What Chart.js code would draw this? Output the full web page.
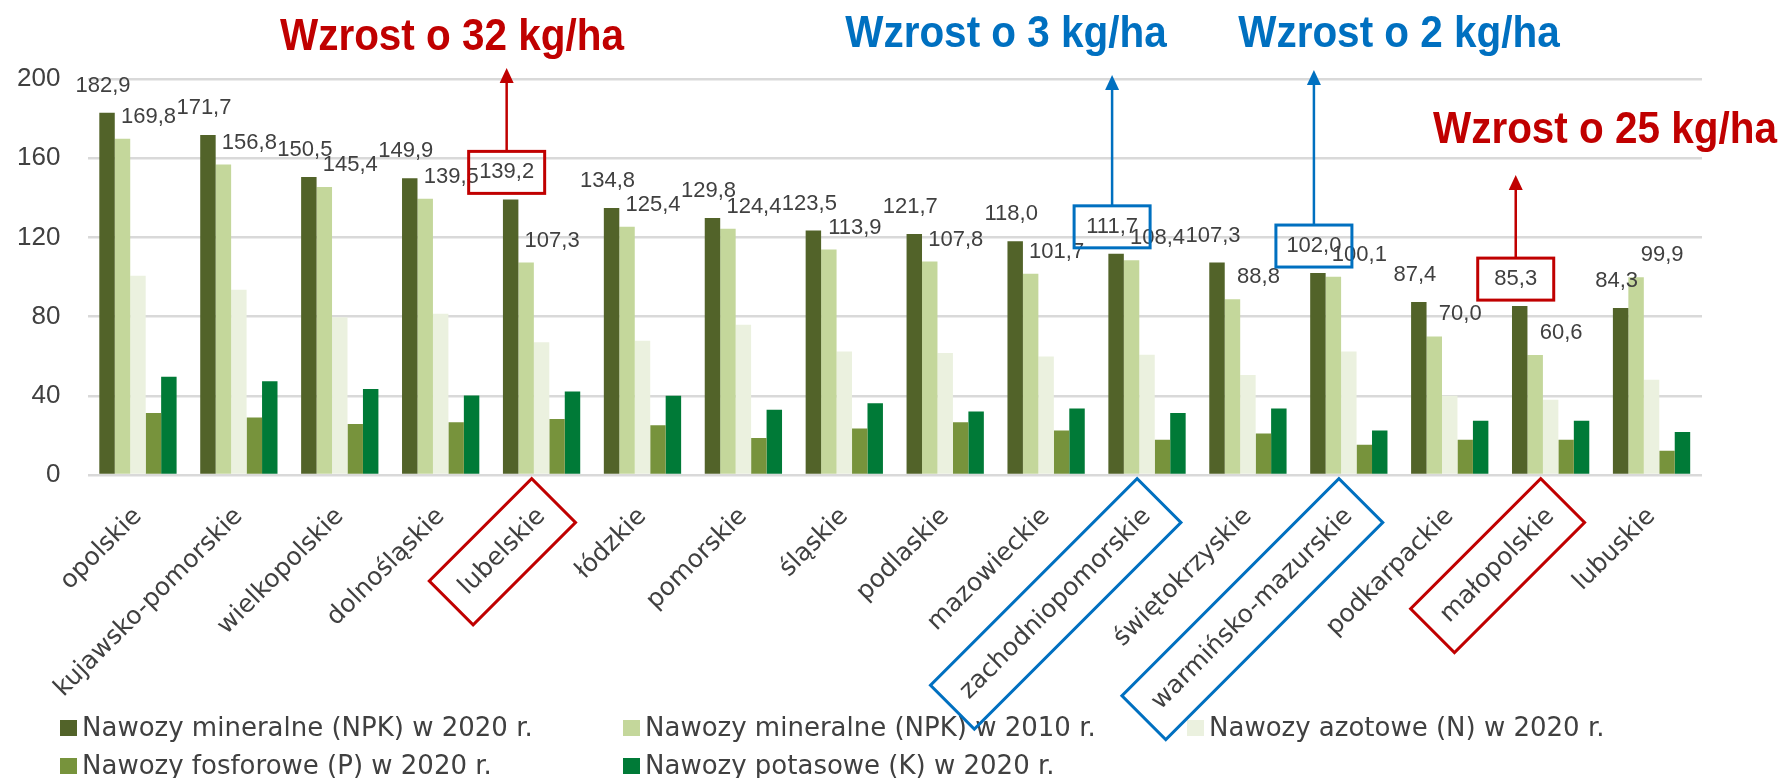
<!DOCTYPE html>
<html>
<head>
<meta charset="utf-8">
<script src="https://cdn.jsdelivr.net/npm/chart.js@4.4.1/dist/chart.umd.min.js"></script>
<style>
  html, body { margin: 0; padding: 0; background: #fff; }
  canvas { display: block; }
</style>
</head>
<body>
<canvas id="chart" width="1785" height="778"></canvas>
<script>
// --- DATA (kg/ha) ---
const regions = ['opolskie', 'kujawsko-pomorskie', 'wielkopolskie', 'dolnośląskie', 'lubelskie',
  'łódzkie', 'pomorskie', 'śląskie', 'podlaskie', 'mazowieckie', 'zachodniopomorskie',
  'świętokrzyskie', 'warmińsko-mazurskie', 'podkarpackie', 'małopolskie', 'lubuskie'];
const npk2020 = [182.9, 171.7, 150.5, 149.9, 139.2, 134.8, 129.8, 123.5, 121.7, 118.0, 111.7, 107.3, 102.0, 87.4, 85.3, 84.3];
const npk2010 = [169.8, 156.8, 145.4, 139.5, 107.3, 125.4, 124.4, 113.9, 107.8, 101.7, 108.4, 88.8, 100.1, 70.0, 60.6, 99.9];
const n2020 = [100.6, 93.5, 79.7, 81.4, 67.0, 67.8, 75.9, 62.4, 61.6, 59.9, 60.7, 50.5, 62.4, 40.0, 38.0, 48.1];
const p2020 = [31.3, 29.1, 25.7, 26.6, 28.3, 25.1, 18.7, 23.5, 26.6, 22.5, 17.8, 21.0, 15.3, 17.8, 17.8, 12.3];
const k2020 = [49.6, 47.3, 43.4, 40.2, 42.2, 40.0, 33.0, 36.2, 32.1, 33.6, 31.3, 33.6, 22.5, 27.4, 27.4, 21.7];
const seriesNames = ['Nawozy mineralne (NPK) w 2020 r.', 'Nawozy mineralne (NPK) w 2010 r.',
  'Nawozy azotowe (N) w 2020 r.', 'Nawozy fosforowe (P) w 2020 r.', 'Nawozy potasowe (K) w 2020 r.'];
const yMin = 0, yMax = 200, yStep = 40;

// callouts: which region, heading text
const calloutIdx = [4, 10, 12, 14];
const calloutText = ['Wzrost o 32 kg/ha', 'Wzrost o 3 kg/ha', 'Wzrost o 2 kg/ha', 'Wzrost o 25 kg/ha'];

// --- STYLE / LAYOUT ---
const colors = ['#526329', '#c4d79b', '#ebf1df', '#77933c', '#007a37'];
const calloutColor = ['#c00000', '#0070c0', '#0070c0', '#c00000'];
// heading centre x, heading baseline y, arrow tip y (canvas px)
const calloutPos = [[452, 50, 68], [1006, 47, 75], [1399, 47, 70], [1605, 143, 175]];
const textColor = '#404040';
const TEXT_FONT = '"DejaVu Sans", sans-serif';
const NUM_FONT = '"Liberation Sans", Arial, sans-serif';

const fmt = v => v.toFixed(1).replace('.', ',');

const overlay = {
  id: 'overlay',
  afterDraw(chart) {
    const ctx = chart.ctx;
    const m0 = chart.getDatasetMeta(0);
    const m1 = chart.getDatasetMeta(1);

    // value labels for the two NPK series
    ctx.save();
    ctx.font = '22px ' + NUM_FONT;
    ctx.fillStyle = textColor;
    ctx.textAlign = 'center';
    ctx.textBaseline = 'middle';
    const lab0 = [];
    regions.forEach((r, i) => {
      const b0 = m0.data[i], b1 = m1.data[i];
      lab0.push([b0.x - 4, b0.y - 27]);
      ctx.fillText(fmt(npk2020[i]), b0.x - 4, b0.y - 27);
      ctx.fillText(fmt(npk2010[i]), b1.x + 26, b1.y - 22);
    });
    ctx.restore();

    // legend, 3 columns
    ctx.save();
    ctx.font = '26px ' + TEXT_FONT;
    ctx.textBaseline = 'middle';
    const colX = [60, 623, 1187], rowY = [728, 766];
    seriesNames.forEach((name, i) => {
      const x = colX[i % 3], y = rowY[Math.floor(i / 3)];
      ctx.fillStyle = colors[i];
      ctx.fillRect(x, y - 8, 17, 16);
      ctx.fillStyle = textColor;
      ctx.fillText(name, x + 22, y + 1);
    });
    ctx.restore();

    // callouts
    const items = chart.scales.x.getLabelItems();
    calloutIdx.forEach((idx, k) => {
      const col = calloutColor[k];
      const [cx, cy] = lab0[idx];
      const [hx, hy, tipY] = calloutPos[k];
      ctx.save();
      ctx.strokeStyle = col;
      ctx.fillStyle = col;
      ctx.lineWidth = 3;
      // box round value label
      ctx.strokeRect(cx - 38, cy - 21, 76, 42);
      // arrow up to the heading
      ctx.lineWidth = 2.5;
      ctx.beginPath();
      ctx.moveTo(cx, cy - 21);
      ctx.lineTo(cx, tipY + 12);
      ctx.stroke();
      ctx.beginPath();
      ctx.moveTo(cx, tipY);
      ctx.lineTo(cx - 7, tipY + 15);
      ctx.lineTo(cx + 7, tipY + 15);
      ctx.closePath();
      ctx.fill();
      // heading
      ctx.font = 'bold 44px ' + NUM_FONT;
      ctx.textAlign = 'center';
      ctx.textBaseline = 'alphabetic';
      ctx.translate(hx, hy);
      ctx.scale(0.92, 1);
      ctx.fillText(calloutText[k], 0, 0);
      ctx.restore();

      // rotated box round category label
      const it = items[idx];
      if (!it) return;
      ctx.save();
      ctx.font = '25px ' + TEXT_FONT;
      const w = ctx.measureText(regions[idx]).width;
      ctx.translate(it.options.translation[0], it.options.translation[1]);
      ctx.rotate(it.options.rotation);
      ctx.strokeStyle = col;
      ctx.lineWidth = 3;
      ctx.strokeRect(-w - 17, it.textOffset - 31, w + 34, 62);
      ctx.restore();
    });
  }
};

new Chart(document.getElementById('chart'), {
  type: 'bar',
  data: {
    labels: regions,
    datasets: [npk2020, npk2010, n2020, p2020, k2020].map((d, i) => ({
      label: seriesNames[i],
      data: d,
      backgroundColor: colors[i],
      borderWidth: 0,
      categoryPercentage: 0.766,
      barPercentage: 1.0
    }))
  },
  options: {
    responsive: false,
    animation: false,
    devicePixelRatio: 1,
    layout: { padding: { left: 0, right: 83, top: 79, bottom: 43 } },
    plugins: {
      legend: { display: false },
      tooltip: { enabled: false }
    },
    scales: {
      x: {
        grid: { display: false, drawTicks: false },
        border: { display: false },
        afterFit: axis => { axis.height = 260; },
        ticks: {
          autoSkip: false,
          minRotation: 45,
          maxRotation: 45,
          padding: 27,
          color: textColor,
          font: { family: TEXT_FONT, size: 25 }
        }
      },
      y: {
        min: yMin,
        max: yMax,
        grid: { color: '#d9d9d9', lineWidth: 2.5, drawTicks: false },
        border: { display: false },
        afterFit: axis => { axis.width = 87.5; },
        ticks: {
          stepSize: yStep,
          padding: 27,
          color: textColor,
          font: { family: NUM_FONT, size: 26 }
        }
      }
    }
  },
  plugins: [overlay]
});
</script>
</body>
</html>
